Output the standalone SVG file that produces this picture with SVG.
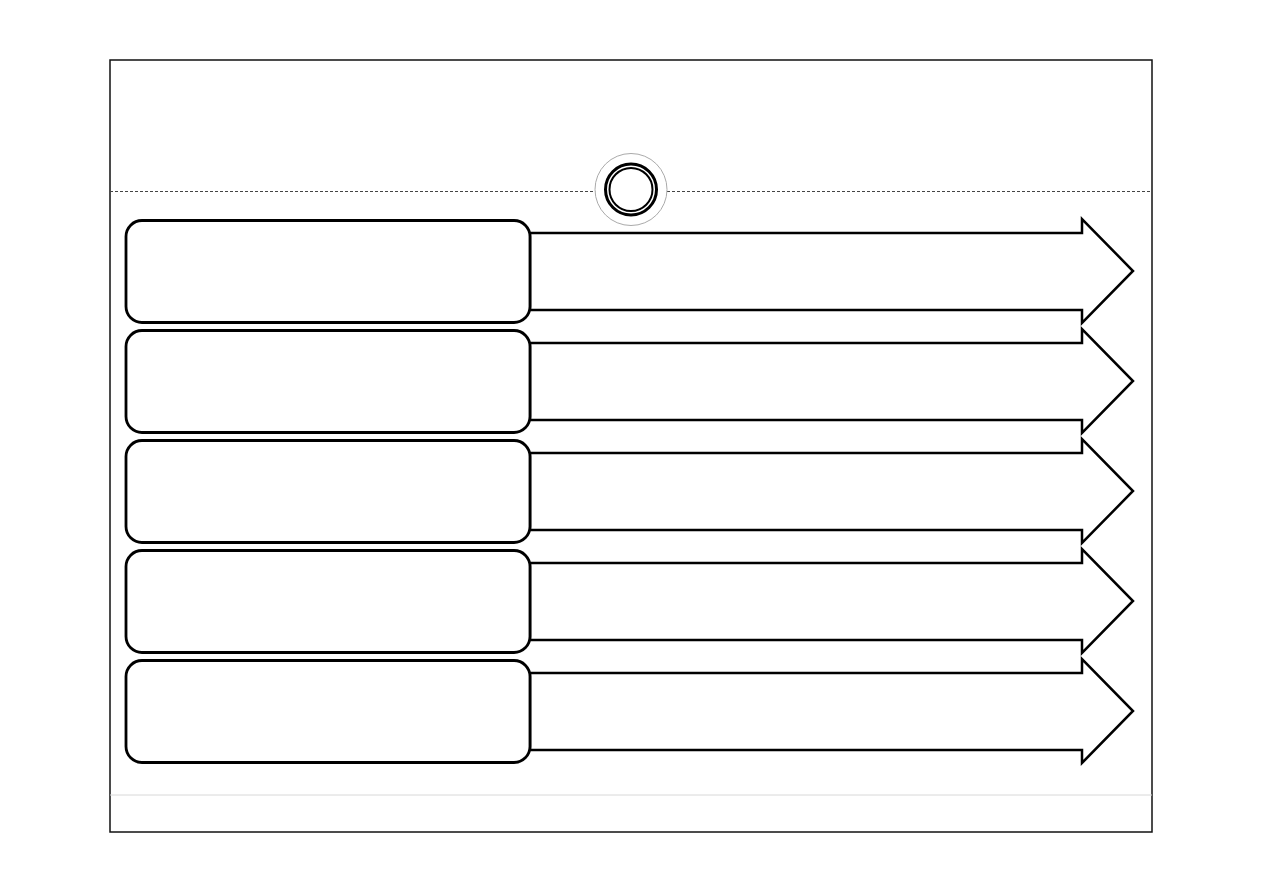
<svg xmlns="http://www.w3.org/2000/svg" width="1263" height="893" viewBox="0 0 1263 893">
<style>
.frame{fill:#fff;stroke:#111;stroke-width:1.5}
.arrow{fill:#fff;stroke:#000;stroke-width:2.5;stroke-linejoin:miter}
.box{fill:#fff;stroke:#000;stroke-width:2.8}
</style>
<defs>
<polygon id="arr" points="530,233 1082,233 1082,219 1133,271 1082,323 1082,310 530,310"/>
</defs>
<rect width="1263" height="893" fill="#fff"/>
<rect class="frame" x="110" y="60" width="1042" height="772"/>
<line x1="110" y1="795" x2="1152" y2="795" stroke="#d8d8d8" stroke-width="1"/>
<g id="divider">
<line x1="110" y1="191.5" x2="596" y2="191.5" stroke="#444" stroke-width="1" stroke-dasharray="3,2"/>
<line x1="667" y1="191.5" x2="1152" y2="191.5" stroke="#444" stroke-width="1" stroke-dasharray="3,2"/>
</g>
<g id="circle">
<circle cx="631" cy="189.5" r="36" fill="#fff" stroke="#aaa" stroke-width="1"/>
<circle cx="631" cy="189.5" r="25.5" fill="#fff" stroke="#000" stroke-width="3"/>
<circle cx="631" cy="189.5" r="21.5" fill="#fff" stroke="#000" stroke-width="2"/>
</g>
<g id="connectors">
<use href="#arr" class="arrow"/>
<use href="#arr" class="arrow" transform="translate(0,110)"/>
<use href="#arr" class="arrow" transform="translate(0,220)"/>
<use href="#arr" class="arrow" transform="translate(0,330)"/>
<use href="#arr" class="arrow" transform="translate(0,440)"/>
</g>
<g id="box1"><rect class="box" x="126" y="220.5" width="404" height="102" rx="16"/></g>
<g id="box2"><rect class="box" x="126" y="330.5" width="404" height="102" rx="16"/></g>
<g id="box3"><rect class="box" x="126" y="440.5" width="404" height="102" rx="16"/></g>
<g id="box4"><rect class="box" x="126" y="550.5" width="404" height="102" rx="16"/></g>
<g id="box5"><rect class="box" x="126" y="660.5" width="404" height="102" rx="16"/></g>
</svg>
